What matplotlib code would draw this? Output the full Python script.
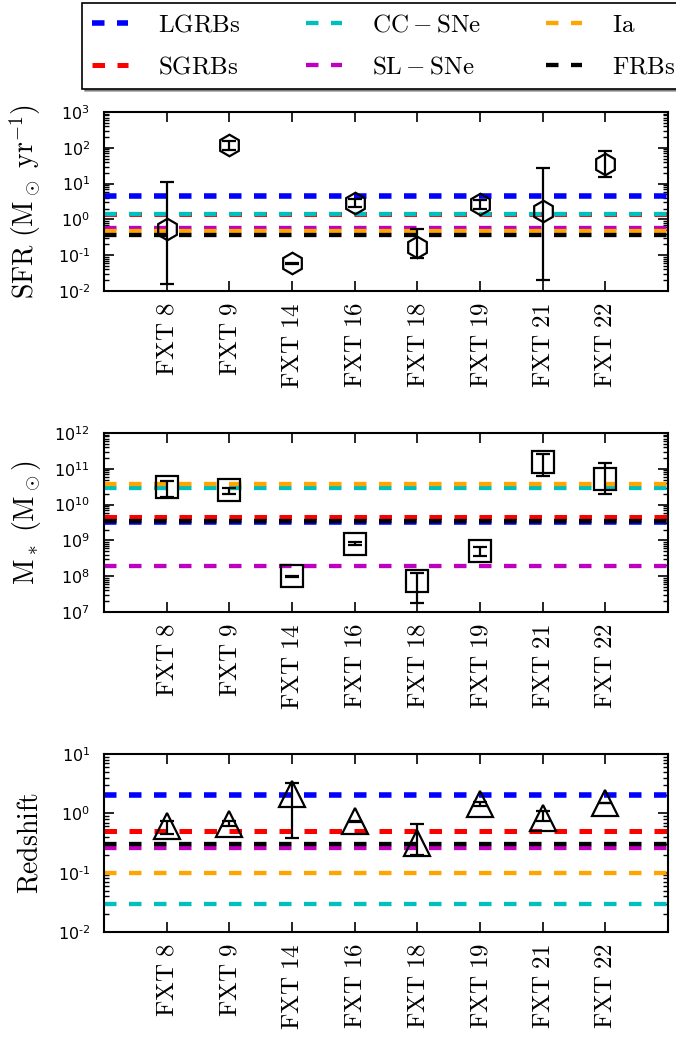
import numpy as np
import matplotlib
matplotlib.use('Agg')
import matplotlib.pyplot as plt
from matplotlib.ticker import LogLocator, FixedLocator, FuncFormatter, NullFormatter

plt.rcParams['lines.scale_dashes'] = False
plt.rcParams['mathtext.fontset'] = 'dejavusans'

# sources
fxt_names = ['FXT 8', 'FXT 9', 'FXT 14', 'FXT 16', 'FXT 18', 'FXT 19', 'FXT 21', 'FXT 22']

# star formation rate (Msun/yr), with lower / upper bounds
sfr = [0.55, 120, 0.059, 2.95, 0.167, 2.7, 1.7, 35]
sfr_lo = [0.0155, 88, 0.056, 2.2, 0.082, 2.0, 0.02, 15.5]
sfr_hi = [11, 150, 0.062, 3.8, 0.55, 3.4, 28, 84]

# stellar mass (Msun)
mass = [3.1e10, 2.6e10, 1.0e8, 8.1e8, 7.4e7, 4.9e8, 1.5e11, 5.3e10]
mass_lo = [1.67e10, 1.95e10, 0.97e8, 7.3e8, 1.8e7, 3.6e8, 6.1e10, 1.94e10]
mass_hi = [4.6e10, 3.0e10, 1.03e8, 8.9e8, 1.2e8, 6.5e8, 2.6e11, 1.45e11]

# redshift
zred = [0.60, 0.67, 2.1, 0.73, 0.32, 1.44, 0.85, 1.5]
zred_lo = [0.45, 0.60, 0.39, 0.72, 0.195, 1.35, 0.73, 1.48]
zred_hi = [0.74, 0.74, 3.3, 0.74, 0.67, 1.55, 1.09, 1.52]

# median values of the comparison populations
pops = ['LGRBs', 'SGRBs', 'CC-SNe', 'SL-SNe', 'Ia', 'FRBs']
pop_labels = [r'$\mathrm{LGRBs}$', r'$\mathrm{SGRBs}$', r'$\mathrm{CC-SNe}$',
              r'$\mathrm{SL-SNe}$', r'$\mathrm{Ia}$', r'$\mathrm{FRBs}$']
pop_sfr = [4.6, 1.45, 1.45, 0.59, 0.48, 0.37]
pop_mass = [3.2e9, 4.6e9, 2.85e10, 1.9e8, 3.8e10, 3.5e9]
pop_z = [2.0, 0.5, 0.03, 0.26, 0.10, 0.30]

pop_colors = ['#0000ff', '#ff0000', '#00bfbf', '#bf00bf', '#ffa500', '#000000']
pop_lw = [4.0, 3.6, 3.1, 3.1, 3.1, 3.1]

W, H = 676, 1037
fig = plt.figure(figsize=(W / 100, H / 100), dpi=100)

panels = [
    (112, 291, sfr, sfr_lo, sfr_hi, pop_sfr, 'h', 15.5, (1e-2, 1e3),
     r'$\mathrm{SFR\ (M_\odot\ yr^{-1})}$'),
    (433, 612, mass, mass_lo, mass_hi, pop_mass, 's', 15.5, (1e7, 1e12),
     r'$\mathrm{M_*\ (M_\odot)}$'),
    (754, 932, zred, zred_lo, zred_hi, pop_z, '^', 18.5, (1e-2, 1e1),
     r'$\mathrm{Redshift}$'),
]


def log_label(v, pos):
    e = int(round(np.log10(v)))
    return r'$10^{%s}$' % ('\u2010%d' % -e if e < 0 else '%d' % e)


x = np.arange(1, len(fxt_names) + 1)
axes = []
for top, bot, val, lo, hi, popv, mk, ms, ylim, ylab in panels:
    ax = fig.add_axes([104 / W, 1 - bot / H, 564 / W, (bot - top) / H])
    axes.append(ax)
    for v, c, lw, lab in zip(popv, pop_colors, pop_lw, pop_labels):
        ax.axhline(v, color=c, lw=lw, linestyle=(0, (9, 9)), label=lab, zorder=2)
    val = np.array(val)
    yerr = [val - np.array(lo), np.array(hi) - val]
    ax.errorbar(x, val, yerr=yerr, fmt='none', ecolor='k', elinewidth=1.6,
                capsize=5, capthick=1.6, zorder=3)
    ax.plot(x, val, linestyle='none', marker=mk, ms=ms, mfc='none', mec='k',
            mew=1.6, zorder=4)
    ax.set_yscale('log')
    ax.set_ylim(*ylim)
    ax.set_xlim(0, 9)
    ax.set_xticks(x)
    ax.set_xticklabels([r'$\mathrm{%s}$' % n.replace(' ', r'\ ') for n in fxt_names],
                       rotation=90, fontsize=18, math_fontfamily='cm')
    dec = np.arange(int(np.log10(ylim[0])), int(np.log10(ylim[1])) + 1)
    ax.yaxis.set_major_locator(FixedLocator(10.0 ** dec))
    ax.yaxis.set_minor_locator(LogLocator(base=10, subs=np.arange(2, 10), numticks=20))
    ax.yaxis.set_minor_formatter(NullFormatter())
    ax.yaxis.set_major_formatter(FuncFormatter(log_label))
    ax.tick_params(axis='both', which='both', direction='in', top=True, right=True)
    ax.tick_params(axis='both', which='major', length=7, width=1.2)
    ax.tick_params(axis='y', which='minor', length=3.5, width=1.0)
    ax.tick_params(axis='y', which='major', labelsize=11.5, pad=10)
    ax.tick_params(axis='x', which='major', pad=8)
    for s in ax.spines.values():
        s.set_linewidth(1.5)
    ax.set_ylabel(ylab, fontsize=20, math_fontfamily='cm')
    ax.yaxis.set_label_coords(-0.108, 0.5)

handles, labels = axes[0].get_legend_handles_labels()
leg = fig.legend(handles, labels, loc='upper left', bbox_to_anchor=(82 / W, 1 - 2.5 / H),
                 ncol=3, fontsize=18, frameon=True, fancybox=False, shadow=True,
                 borderpad=0.4, borderaxespad=0, handlelength=1.45, handletextpad=1.2,
                 columnspacing=2.6, labelspacing=0.72)
leg.get_frame().set_edgecolor('k')
leg.get_frame().set_linewidth(1.2)
for t in leg.get_texts():
    t.set_math_fontfamily('cm')

fig.savefig('out.png', dpi=100)
